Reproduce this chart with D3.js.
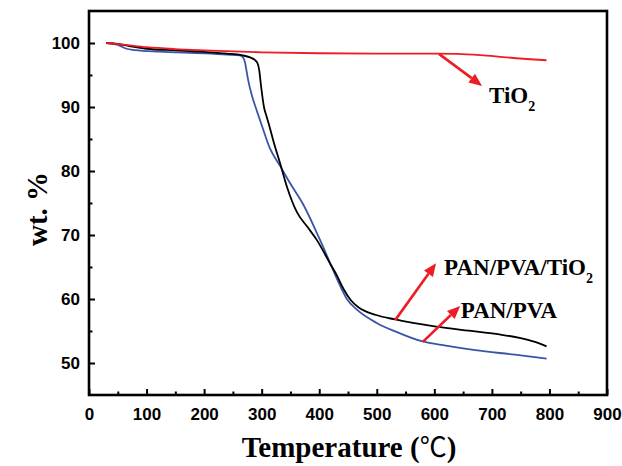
<!DOCTYPE html>
<html><head><meta charset="utf-8">
<script src="https://cdn.jsdelivr.net/npm/d3@7/dist/d3.min.js"></script>
<style>body{margin:0;background:#fff}svg{display:block}</style>
</head><body><svg id="c" width="622" height="466"></svg>
<script>
// Data: [temperature °C, wt %]
const tio2 = [[30,100],[60,99.75],[100,99.35],[150,99.05],[200,98.85],[300,98.55],[400,98.4],[500,98.35],[600,98.35],[640,98.3],[680,98.1],[720,97.8],[760,97.5],[795,97.3]];
const panPvaTio2 = [[30,100],[50,99.85],[70,99.5],[100,99.1],[150,98.85],[200,98.6],[240,98.35],[265,98.1],[280,97.75],[288,97.35],[293,96.8],[296,95.6],[298,94.0],[300,92.5],[304,90.0],[309,88.4],[315,86.5],[320,84.8],[332,81.2],[344,77.5],[361,73.6],[380,71.2],[396,69.2],[410,67.0],[419,65.5],[430,63.8],[442,61.6],[455,59.8],[468,58.7],[499,57.5],[532,56.8],[603,55.7],[660,55.05],[710,54.5],[750,53.9],[775,53.3],[795,52.6]];
const panPva = [[30,100],[50,99.7],[65,99.1],[80,98.9],[123,98.65],[200,98.4],[240,98.2],[262,98.05],[268,97.7],[271,97.0],[274,95.5],[277,94.0],[283,91.8],[292,89.3],[300,87.2],[314,83.6],[332,80.8],[350,78.0],[372,74.8],[401,69.3],[419,65.6],[432,62.9],[448,60.0],[466,58.3],[499,56.3],[533,54.9],[578,53.4],[620,52.7],[671,52.0],[740,51.3],[795,50.7]];
const xTicks = [0,100,200,300,400,500,600,700,800,900];
const xMinor = [50,150,250,350,450,550,650,750,850];
const yTicks = [50,60,70,80,90,100];
const yMinor = [55,65,75,85,95];
// annotations: label, arrow base [t,wt], arrow tip [t,wt], label anchor [t,wt]
const annLabels = ["TiO", "PAN/PVA/TiO", "PAN/PVA"];
const annSubs = ["2", "2", ""];
const annBase = [[608,98.3],[532,56.7],[580,53.3]];
const annTip = [[683,93.3],[603,65.6],[645,58.9]];
const annText = [[695,90.6],[617,63.7],[646,57.1]];

const svg = d3.select("#c");
const L=89, R=607, T=11, B=395;
const x = d3.scaleLinear().domain([0,900]).range([L,R]);
const y = d3.scaleLinear().domain([45,105]).range([B,T]);

const line = d3.line().x(d=>x(d[0])).y(d=>y(d[1])).curve(d3.curveMonotoneX);
const series = [[panPva,"#3a55a8"],[panPvaTio2,"#000"],[tio2,"#ee1c25"]];
series.forEach(([d,c])=>{
  svg.append("path").datum(d).attr("d",line).attr("fill","none").attr("stroke",c).attr("stroke-width",1.8).attr("stroke-linejoin","round");
});

// axes with inward ticks
const gx = svg.append("g").attr("transform",`translate(0,${B})`)
  .call(d3.axisBottom(x).tickValues(xTicks).tickSize(-6).tickPadding(13).tickFormat(d3.format("d")));
svg.append("g").attr("transform",`translate(0,${B})`)
  .call(d3.axisBottom(x).tickValues(xMinor).tickSize(-3.5).tickFormat(""))
  .call(g=>g.select(".domain").remove());
const gy = svg.append("g").attr("transform",`translate(${L},0)`)
  .call(d3.axisLeft(y).tickValues(yTicks).tickSize(-6).tickPadding(9).tickFormat(d3.format("d")));
svg.append("g").attr("transform",`translate(${L},0)`)
  .call(d3.axisLeft(y).tickValues(yMinor).tickSize(-3.5).tickFormat(""))
  .call(g=>g.select(".domain").remove());
svg.selectAll(".tick line").attr("stroke","#000").attr("stroke-width",2);
svg.selectAll(".domain").remove();
svg.selectAll(".tick text").attr("font-family","'Liberation Sans',Arial,sans-serif").attr("font-weight","bold").attr("font-size",17).attr("fill","#000");
gx.selectAll(".tick text").attr("dy","0.71em");
gy.selectAll(".tick text").attr("dy","0.35em");

// frame
svg.append("rect").attr("x",L).attr("y",T).attr("width",R-L).attr("height",B-T)
  .attr("fill","none").attr("stroke","#000").attr("stroke-width",2.6);

// axis titles
const xt = svg.append("text").attr("x",(L+R)/2+1).attr("y",457).attr("text-anchor","middle")
  .attr("font-family","'Liberation Serif','Times New Roman',serif").attr("font-weight","bold").attr("font-size",29);
xt.append("tspan").text("Temperature (");
xt.append("tspan").attr("font-family","'Noto Sans CJK SC'").attr("font-weight","normal").attr("font-size",27).text("℃");
xt.append("tspan").text(")");
svg.append("text").attr("transform",`translate(47,${(T+B)/2+6}) rotate(-90)`).attr("text-anchor","middle")
  .attr("font-family","'Liberation Serif','Times New Roman',serif").attr("font-weight","bold").attr("font-size",29)
  .text("wt. %");

// annotations
annLabels.forEach((lab,i)=>{
  const x0=x(annBase[i][0]), y0=y(annBase[i][1]), x1=x(annTip[i][0]), y1=y(annTip[i][1]);
  const ang=Math.atan2(y1-y0,x1-x0), hl=13, hw=5.5;
  const bx=x1-hl*Math.cos(ang), by=y1-hl*Math.sin(ang);
  svg.append("line").attr("x1",x0).attr("y1",y0).attr("x2",bx).attr("y2",by).attr("stroke","#ee1c25").attr("stroke-width",2.6);
  const px=-Math.sin(ang), py=Math.cos(ang);
  svg.append("polygon").attr("points",[[x1,y1],[bx+hw*px,by+hw*py],[bx-hw*px,by-hw*py]].map(p=>p.join(",")).join(" "))
    .attr("fill","#ee1c25");
  const t = svg.append("text").attr("x",x(annText[i][0])).attr("y",y(annText[i][1]))
    .attr("font-family","'Liberation Serif','Times New Roman',serif").attr("font-weight","bold").attr("font-size",23).attr("fill","#000");
  t.append("tspan").text(lab);
  if(annSubs[i]) t.append("tspan").attr("font-size",14).attr("dy",8).text(annSubs[i]);
});
</script></body></html>
